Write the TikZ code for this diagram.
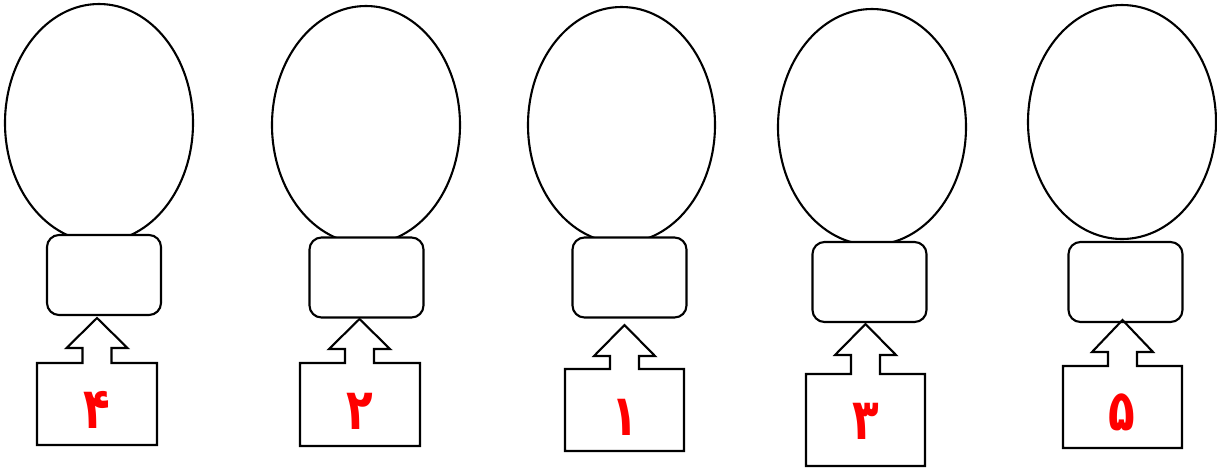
\documentclass[tikz,border=0pt]{standalone}
\usepackage{fontspec}
\newfontfamily\fadigits[Script=Arabic]{DejaVu Sans}
\usetikzlibrary{shapes.geometric}
\newcommand\narrowdigit[1]{\scalebox{0.78}[1.02]{#1}}
\tikzset{
  bulb/.style={ellipse, draw=black, line width=2.1pt, fill=white, inner sep=0pt},
  holder/.style={rectangle, rounded corners=12pt, draw=black, line width=2.1pt, fill=white, inner sep=0pt, minimum width=114pt, minimum height=80pt},
  callout/.style={draw=black, line width=2.1pt, line join=miter},
  digit/.style={text=red, font=\fadigits\bfseries\fontsize{56}{60}\selectfont, inner sep=0pt}
}
% #1 name, #2 x1, #3 x2, #4 ytop, #5 ybot, #6 tipx, #7 tipy, #8 head-base y
\newcommand\arrowbox[8]{%
  \coordinate (#1tip) at (#6,#7);
  \draw[callout] (#1tip) -- ({#6+30.5},#8) -- ({#6+14.5},#8) -- ({#6+14.5},#4) -- (#3,#4) -- (#3,#5)
    -- (#2,#5) -- (#2,#4) -- ({#6-14.5},#4) -- ({#6-14.5},#8) -- ({#6-30.5},#8) -- cycle;
}
\begin{document}
\begin{tikzpicture}[x=1pt,y=-1pt]
\useasboundingbox (0,0) rectangle (1217,467);
% column 1
\node[bulb, minimum width=188pt, minimum height=238pt] (e1) at (99,123) {};
\node[holder] (r1) at (104,275) {};
\arrowbox{a1}{37}{157}{363}{445}{97}{318}{348}
\node[digit] (d1) at (97,410) {\narrowdigit{۴}};
% column 2
\node[bulb, minimum width=188pt, minimum height=238pt] (e2) at (366,125) {};
\node[holder] (r2) at (366.5,277.5) {};
\arrowbox{a2}{300}{420}{363}{446}{359.5}{319}{349}
\node[digit] (d2) at (359.5,411) {\narrowdigit{۲}};
% column 3
\node[bulb, minimum width=187pt, minimum height=236pt] (e3) at (621.5,125) {};
\node[holder] (r3) at (629.5,277.5) {};
\arrowbox{a3}{565}{684}{369}{451}{624.5}{325}{356}
\node[digit] (d3) at (625,417) {\narrowdigit{۱}};
% column 4
\node[bulb, minimum width=188pt, minimum height=236pt] (e4) at (872,127) {};
\node[holder] (r4) at (869.5,282) {};
\arrowbox{a4}{806}{925}{374}{466}{865.5}{324}{355}
\node[digit] (d4) at (866,421) {\narrowdigit{۳}};
% column 5
\node[bulb, minimum width=188pt, minimum height=234pt] (e5) at (1122,122) {};
\node[holder] (r5) at (1125.5,282) {};
\arrowbox{a5}{1063}{1182}{366}{448}{1122.5}{320}{352}
\node[digit] (d5) at (1122,412) {\narrowdigit{۵}};
\end{tikzpicture}
\end{document}
